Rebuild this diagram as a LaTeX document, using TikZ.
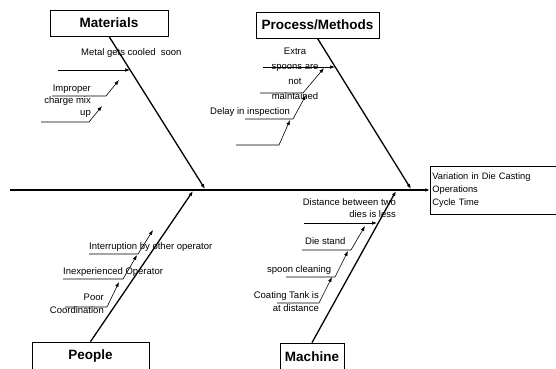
\documentclass[tikz,border=0pt]{standalone}
\usepackage{fontspec}
\setmainfont{Liberation Sans}
\usetikzlibrary{arrows.meta,positioning}

\begin{document}
\begin{tikzpicture}[x=1pt, y=-1pt, >={Latex[length=5pt,width=3.6pt]}, font=\fontsize{9.5}{12}\selectfont]
\tikzstyle{every node}=[inner sep=0pt]
\tikzstyle{cause}=[draw, line width=0.8pt, fill=white, minimum height=26pt, font=\fontsize{13.5}{15}\selectfont\bfseries]
\tikzstyle{bone}=[->, line width=1.3pt]
\tikzstyle{twig}=[->, line width=0.6pt]
\useasboundingbox (0,0) rectangle (556,368);
\clip (0,0) rectangle (556,368);

% heads and effect
\node[cause, minimum width=118pt] (mat) at (109,23) {Materials};
\node[cause, minimum width=123pt] (proc) at (317.5,25) {Process/Methods};
\node[cause, minimum width=117pt, minimum height=28pt] (peo) at (90.5,356) {People};
\node[cause, minimum width=64pt, minimum height=28pt] (mach) at (312,357) {Machine};
\node[draw, line width=0.8pt, anchor=west, minimum height=48pt, text width=126pt,
      inner xsep=2pt, align=left, font=\fontsize{9.3}{13}\selectfont] (eff) at (430,190)
      {Variation in Die Casting\\Operations\\Cycle Time};

% spine and bones
\coordinate (tail) at (10,190);
\coordinate (mtip) at (205,189);
\coordinate (ptip) at (411,189);
\coordinate (ptip2) at (193,191);
\coordinate (ctip) at (396,191);
\draw[->, line width=1.6pt] (tail) -- (eff.west);
\draw[bone] (mat.south) -- (mtip);
\draw[bone] (proc.south) -- (ptip);
\draw[bone] (peo.north) -- (ptip2);
\draw[bone] (mach.north) -- (ctip);

% labels
\node[anchor=north west] (metal) at (81,48) {Metal gets cooled\ \ soon};
\node[anchor=north east, align=right] (charge) at (91,85) {Improper\\charge mix\\up};
\node[anchor=north, align=center, font=\fontsize{9.5}{15}\selectfont] (spoons) at (295,48) {Extra\\spoons are\\not\\maintained};
\node[anchor=north west] (delay) at (210,107) {Delay in inspection};
\node[anchor=north west] (interr) at (89,242) {Interruption by other operator};
\node[anchor=north west] (inexp) at (63,267) {Inexperienced Operator};
\node[anchor=north east, align=right, font=\fontsize{9.5}{13}\selectfont] (poor) at (104,294) {Poor\\Coordination};
\node[anchor=north east, align=right, font=\fontsize{9.5}{12}\selectfont] (dist) at (396,198) {Distance between two\\dies is less};
\node[anchor=north west] (die) at (305,237) {Die stand};
\node[anchor=north west] (spoon) at (267,265) {spoon cleaning};
\node[anchor=north east, align=right, font=\fontsize{9.5}{13}\selectfont] (coat) at (319,291) {Coating Tank is\\at distance};

% materials twigs
\coordinate (m1) at (58,70);   \coordinate (m1e) at (130,70);
\coordinate (m2) at (52,96);   \coordinate (m2k) at (106,96);  \coordinate (m2e) at (119,80);
\coordinate (m3) at (41,122);  \coordinate (m3k) at (89,122);  \coordinate (m3e) at (102,106);
\draw[twig] (m1) -- (m1e);
\draw[twig] (m2) -- (m2k) -- (m2e);
\draw[twig] (m3) -- (m3k) -- (m3e);

% process twigs
\coordinate (p1) at (263,67);  \coordinate (p1e) at (335,67);
\coordinate (p2) at (260,93);  \coordinate (p2k) at (303,93);  \coordinate (p2e) at (324,68);
\coordinate (p3) at (245,119); \coordinate (p3k) at (293,119); \coordinate (p3e) at (306,95);
\coordinate (p4) at (236,145); \coordinate (p4k) at (279,145); \coordinate (p4e) at (290,120);
\draw[twig] (p1) -- (p1e);
\draw[twig] (p2) -- (p2k) -- (p2e);
\draw[twig] (p3) -- (p3k) -- (p3e);
\draw[twig] (p4) -- (p4k) -- (p4e);

% people twigs
\coordinate (e1) at (89,254);  \coordinate (e1k) at (138,254); \coordinate (e1e) at (153,230);
\coordinate (e2) at (63,279);  \coordinate (e2k) at (123,279); \coordinate (e2e) at (137,255);
\coordinate (e3) at (65,307);  \coordinate (e3k) at (107,307); \coordinate (e3e) at (119,282);
\draw[twig] (e1) -- (e1k) -- (e1e);
\draw[twig] (e2) -- (e2k) -- (e2e);
\draw[twig] (e3) -- (e3k) -- (e3e);

% machine twigs
\coordinate (c1) at (304,223); \coordinate (c1e) at (377,223);
\coordinate (c2) at (302,250); \coordinate (c2k) at (351,250); \coordinate (c2e) at (365,226);
\coordinate (c3) at (286,277); \coordinate (c3k) at (335,277); \coordinate (c3e) at (348,251);
\coordinate (c4) at (277,303); \coordinate (c4k) at (319,303); \coordinate (c4e) at (332,277);
\draw[twig] (c1) -- (c1e);
\draw[twig] (c2) -- (c2k) -- (c2e);
\draw[twig] (c3) -- (c3k) -- (c3e);
\draw[twig] (c4) -- (c4k) -- (c4e);
\end{tikzpicture}
\end{document}
